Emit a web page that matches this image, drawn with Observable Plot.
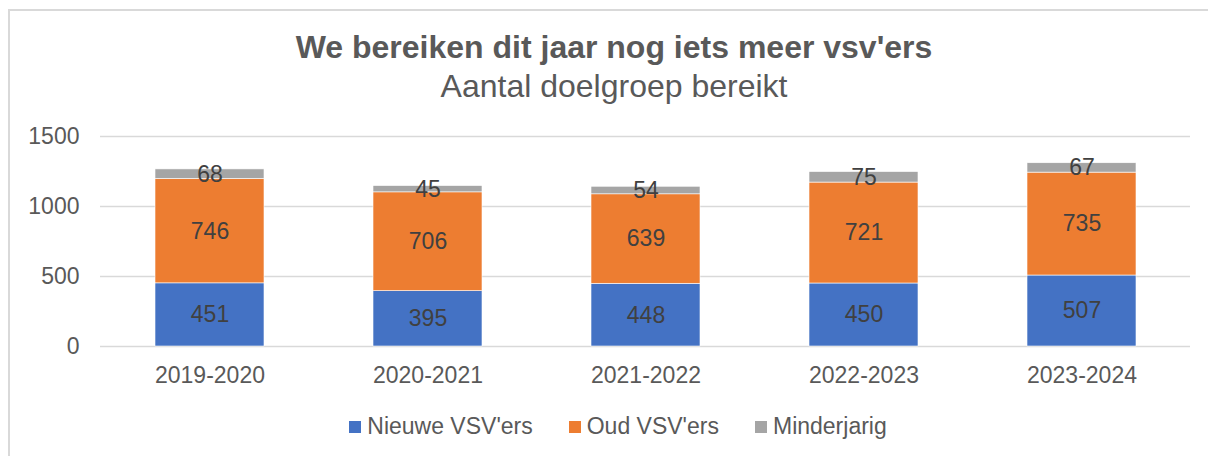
<!DOCTYPE html>
<html>
<head>
<meta charset="utf-8">
<script src="https://cdn.jsdelivr.net/npm/d3@7"></script>
<script src="https://cdn.jsdelivr.net/npm/@observablehq/plot@0.6"></script>
<style>
  html, body { margin: 0; padding: 0; background: #fff; overflow: hidden; width: 1208px; height: 456px; }
  #wrap { position: relative; width: 1208px; height: 456px; font-family: "Liberation Sans", Arial, sans-serif; color: #595959; }
  #frame { position: absolute; left: 8px; top: 9px; width: 1400px; height: 600px; border-left: 2px solid #d9d9d9; border-top: 2px solid #d9d9d9; }
  #title { position: absolute; left: 0; width: 1228px; top: 31px; text-align: center; font-size: 32px; font-weight: bold; line-height: 1; }
  #subtitle { position: absolute; left: 0; width: 1228px; top: 70px; text-align: center; font-size: 32px; line-height: 1; }
  #chart { position: absolute; left: 0; top: 100px; }
  #legend { position: absolute; left: 0; width: 1236px; top: 415px; display: flex; justify-content: center; gap: 36px; font-size: 23px; line-height: 1; }
  .item { display: flex; align-items: center; gap: 6px; }
  .sw { width: 12px; height: 12px; display: inline-block; }
</style>
</head>
<body>
<div id="wrap">
  <div id="frame"></div>
  <div id="title">We bereiken dit jaar nog iets meer vsv'ers</div>
  <div id="subtitle">Aantal doelgroep bereikt</div>
  <div id="chart"></div>
  <div id="legend"></div>
</div>
<script>
const years = ["2019-2020", "2020-2021", "2021-2022", "2022-2023", "2023-2024"];
const nieuwe = [451, 395, 448, 450, 507];
const oud = [746, 706, 639, 721, 735];
const minderjarig = [68, 45, 54, 75, 67];
const seriesNames = ["Nieuwe VSV'ers", "Oud VSV'ers", "Minderjarig"];
const seriesColors = ["#4472C4", "#ED7D31", "#A5A5A5"];
const yTicks = [0, 500, 1000, 1500];

const seriesValues = [nieuwe, oud, minderjarig];
const data = years.flatMap((year, i) =>
  seriesNames.map((s, j) => ({ year, series: s, value: seriesValues[j][i] }))
);

const chart = Plot.plot({
  width: 1208,
  height: 296,
  marginTop: 36,
  marginBottom: 50,
  marginLeft: 100,
  marginRight: 18,
  style: { fontFamily: "'Liberation Sans', Arial, sans-serif", fontSize: "23px", color: "#595959", background: "transparent" },
  x: { domain: years, paddingInner: 0.5, paddingOuter: 0.25, label: null, tickSize: 0, tickPadding: 20 },
  y: { domain: [0, 1500], ticks: yTicks, tickFormat: d => String(d), label: null, tickSize: 0, tickPadding: 21 },
  color: { domain: seriesNames, range: seriesColors },
  marks: [
    Plot.ruleY(yTicks, { stroke: "#d9d9d9", strokeWidth: 1.5 }),
    Plot.barY(data, { x: "year", y: "value", fill: "series", order: seriesNames, stroke: "white", strokeWidth: 0.6 }),
    Plot.text(data, Plot.stackY({ x: "year", y: "value", z: "series", order: seriesNames, text: d => String(d.value), fill: "#404040", fontSize: 23 }))
  ]
});
document.getElementById("chart").appendChild(chart);

const legend = document.getElementById("legend");
seriesNames.forEach((s, i) => {
  const item = document.createElement("div");
  item.className = "item";
  const sw = document.createElement("span");
  sw.className = "sw";
  sw.style.background = seriesColors[i];
  const t = document.createElement("span");
  t.textContent = s;
  item.appendChild(sw);
  item.appendChild(t);
  legend.appendChild(item);
});
</script>
</body>
</html>
